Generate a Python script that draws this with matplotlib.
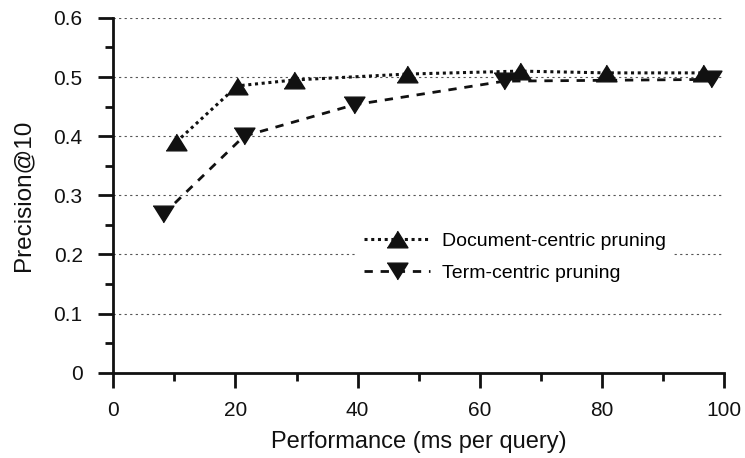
import matplotlib
matplotlib.use("Agg")
import matplotlib.pyplot as plt
from matplotlib.ticker import MultipleLocator, FuncFormatter

# values
doc_x = [10.3, 20.3, 29.6, 48.1, 66.6, 80.7, 96.6]
doc_y = [0.390, 0.485, 0.495, 0.505, 0.510, 0.507, 0.507]
term_x = [8.2, 21.4, 39.4, 64.0, 97.9]
term_y = [0.268, 0.400, 0.453, 0.493, 0.496]

plt.rcParams['font.family'] = ['Liberation Sans', 'DejaVu Sans']

# slightly wide triangles, like the original
tri_up = [(-1, -0.8), (1, -0.8), (0, 0.8)]
tri_down = [(-1, 0.8), (1, 0.8), (0, -0.8)]

fig = plt.figure(figsize=(7.45, 4.58), dpi=100)
ax = fig.add_axes([0.152, 0.186, 0.82, 0.775])

ax.plot(doc_x, doc_y, linestyle=(0, (1, 1.2)), color='#111111', linewidth=2.2,
        marker=tri_up, markersize=15, label='Document-centric pruning', zorder=3)
ax.plot(term_x, term_y, linestyle=(0, (3, 2.8)), color='#111111', linewidth=2.0,
        marker=tri_down, markersize=15, label='Term-centric pruning', zorder=3)

ax.set_xlim(0, 100)
ax.set_ylim(0, 0.6)
ax.xaxis.set_major_locator(MultipleLocator(20))
ax.xaxis.set_minor_locator(MultipleLocator(10))
ax.yaxis.set_major_locator(MultipleLocator(0.1))
ax.yaxis.set_minor_locator(MultipleLocator(0.05))
ax.yaxis.set_major_formatter(FuncFormatter(lambda v, p: '0' if abs(v) < 1e-9 else '%.1f' % v))

for y in [0.1, 0.2, 0.3, 0.4, 0.5, 0.6]:
    ax.axhline(y, color='#555555', linestyle=(0, (2, 3)), linewidth=0.8, zorder=1)

for s in ['top', 'right']:
    ax.spines[s].set_visible(False)
for s in ['left', 'bottom']:
    ax.spines[s].set_linewidth(2)
    ax.spines[s].set_color('#111111')

ax.tick_params(which='major', direction='out', length=11, width=2,
               labelsize=15, pad=9, color='#111111', labelcolor='#111111')
ax.tick_params(axis='y', which='major', pad=11)
ax.tick_params(which='minor', direction='out', length=5.5, width=2, color='#111111')

ax.set_xlabel('Performance (ms per query)', fontsize=17, labelpad=8, color='#111111')
ax.set_ylabel('Precision@10', fontsize=17.5, labelpad=14, color='#111111')

leg = ax.legend(loc='upper left', bbox_to_anchor=(0.398, 0.418), frameon=True,
                fontsize=14, handlelength=3.4, handletextpad=0.6,
                borderaxespad=0, labelspacing=0.75)
leg.get_frame().set_edgecolor('none')
leg.get_frame().set_facecolor('white')
leg.get_frame().set_alpha(1)

fig.savefig('out.png', dpi=100)
